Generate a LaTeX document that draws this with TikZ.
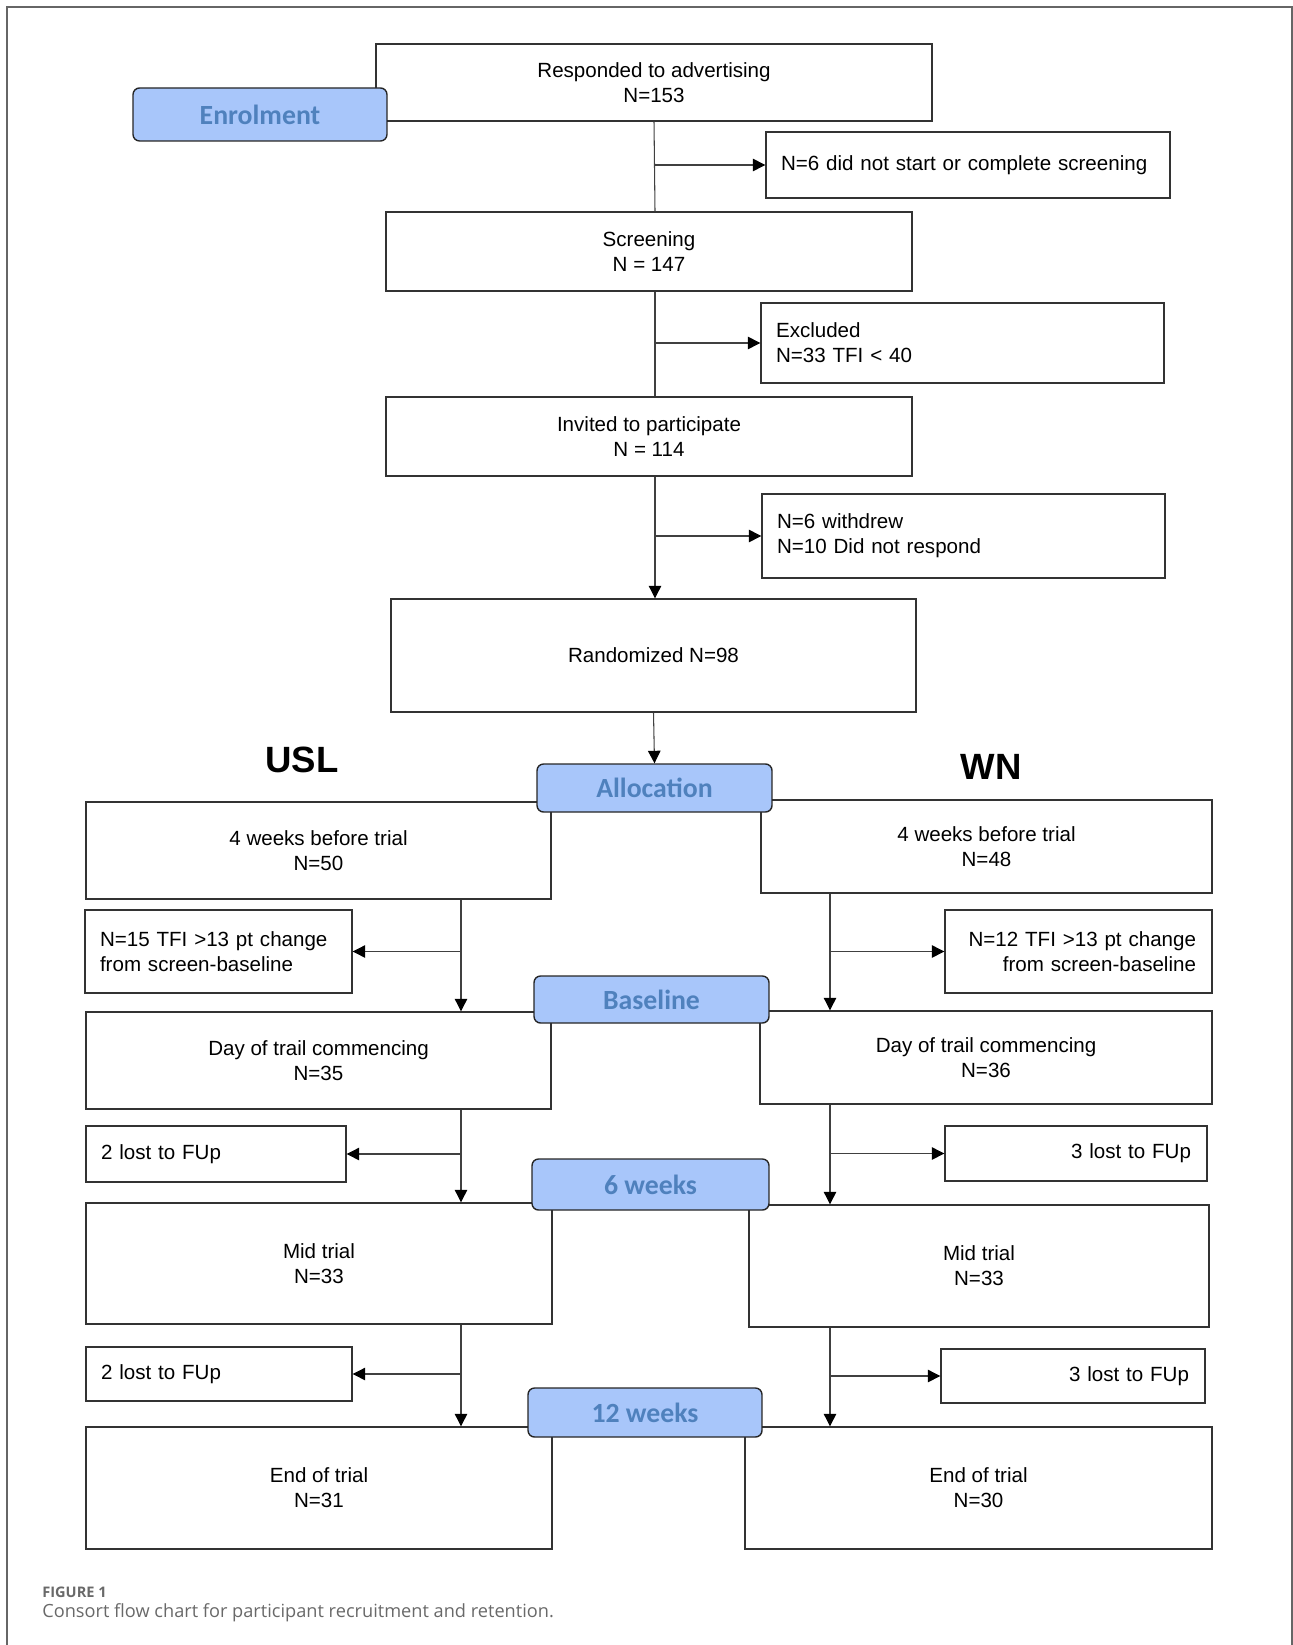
\documentclass[tikz,border=0pt]{standalone}
\usepackage{fontspec}
\setmainfont{Liberation Sans}
\newfontfamily\calibri{Carlito}
\newfontfamily\capfont{Open Sans}
\usetikzlibrary{arrows.meta}
\definecolor{phasefill}{RGB}{168,198,250}
\definecolor{phasetext}{RGB}{79,129,189}
\definecolor{capgray}{RGB}{105,105,105}
\newcommand{\boxfont}{\fontsize{11.7}{14.3}\selectfont}
\newcommand{\phasefont}{\calibri\bfseries\fontsize{15.8}{18}\selectfont}
\tikzset{
  box/.style={draw=black!80, line width=0.8pt, fill=white, align=center, font=\boxfont, inner sep=0pt},
  note/.style={box, align=left, inner xsep=0.3cm},
  noter/.style={box, align=right, inner xsep=0.32cm},
  phase/.style={draw=black!85, line width=0.8pt, fill=phasefill, rounded corners=0.13cm,
    text=phasetext, font=\phasefont, inner sep=0pt},
  line/.style={draw=black!75, line width=0.6pt},
  arr/.style={line, -{Triangle[length=0.25cm, width=0.25cm, color=black]}},
  arm/.style={font=\fontsize{20.8}{24}\selectfont\bfseries}
}
\begin{document}
\begin{tikzpicture}[x=0.02cm, y=-0.02cm]
  \useasboundingbox (0,0) rectangle (1293,1645);
  \draw[black!60, line width=0.03cm] (7,1645) -- (7,7) -- (1292,7) -- (1292,1645);

  \coordinate (trunk) at (655,0);
  \coordinate (trunkL) at (461,0);
  \coordinate (trunkR) at (830,0);

  \node[box, minimum width=11.12cm, minimum height=1.54cm] (resp) at (654,82.5)
    {Responded to advertising\\N=153};
  \node[phase, minimum width=5.08cm, minimum height=1.06cm] (enrol) at (260,114.5) {Enrolment};
  \node[note, text width=7.48cm, minimum height=1.32cm] (notstart) at (968,165)
    {N=6 did not start or complete screening};
  \node[box, minimum width=10.52cm, minimum height=1.58cm] (screen) at (649,251.5)
    {Screening\\N = 147};
  \node[note, text width=7.46cm, minimum height=1.6cm] (excl) at (962.5,343)
    {Excluded\\N=33 TFI < 40};
  \node[box, minimum width=10.52cm, minimum height=1.58cm] (invite) at (649,436.5)
    {Invited to participate\\N = 114};
  \node[note, text width=7.46cm, minimum height=1.68cm] (withdr) at (963.5,536)
    {N=6 withdrew\\N=10 Did not respond};
  \node[box, minimum width=10.5cm, minimum height=2.26cm] (random) at (653.5,655.5)
    {Randomized N=98};

  \node[arm] (usl) at (302,760) {USL};
  \node[arm] (wn) at (991,767) {WN};

  \node[box, minimum width=9.3cm, minimum height=1.94cm] (wkL) at (318.5,850.5)
    {4 weeks before trial\\N=50};
  \node[box, minimum width=9.02cm, minimum height=1.86cm] (wkR) at (986.5,846.5)
    {4 weeks before trial\\N=48};
  \node[phase, minimum width=4.7cm, minimum height=0.96cm] (alloc) at (654.5,788) {Allocation};

  \node[note, text width=4.74cm, minimum height=1.66cm] (chgL) at (218.5,951.5)
    {N=15 TFI >13 pt change\\from screen-baseline};
  \node[noter, text width=4.7cm, minimum height=1.66cm] (chgR) at (1078.5,951.5)
    {N=12 TFI >13 pt change\\from screen-baseline};

  \node[box, minimum width=9.3cm, minimum height=1.94cm] (dayL) at (318.5,1060.5)
    {Day of trail commencing\\N=35};
  \node[box, minimum width=9.04cm, minimum height=1.86cm] (dayR) at (986,1057.5)
    {Day of trail commencing\\N=36};
  \node[phase, minimum width=4.7cm, minimum height=0.94cm] (base) at (651.5,999.5) {Baseline};

  \node[note, text width=4.6cm, minimum height=1.12cm] (lostL1) at (216,1154) {2 lost to FUp};
  \node[noter, text width=4.6cm, minimum height=1.1cm] (lostR1) at (1076,1153.5) {3 lost to FUp};

  \node[box, minimum width=9.32cm, minimum height=2.42cm] (midL) at (319,1263.5)
    {Mid trial\\N=33};
  \node[box, minimum width=9.2cm, minimum height=2.44cm] (midR) at (979,1266)
    {Mid trial\\N=33};
  \node[phase, minimum width=4.74cm, minimum height=1.02cm] (six) at (650.5,1184.5) {6 weeks};

  \node[note, text width=4.72cm, minimum height=1.08cm] (lostL2) at (219,1374) {2 lost to FUp};
  \node[noter, text width=4.64cm, minimum height=1.08cm] (lostR2) at (1073,1376) {3 lost to FUp};

  \node[box, minimum width=9.32cm, minimum height=2.44cm] (endL) at (319,1488)
    {End of trial\\N=31};
  \node[box, minimum width=9.34cm, minimum height=2.44cm] (endR) at (978.5,1488)
    {End of trial\\N=30};
  \node[phase, minimum width=4.68cm, minimum height=0.98cm] (twelve) at (645,1412.5) {12 weeks};

  \node[anchor=west, inner sep=0pt, text=capgray, font=\capfont\bfseries\fontsize{8.3}{10}\selectfont]
    (figno) at (42,1592) {FIGURE 1};
  \node[anchor=west, inner sep=0pt, text=capgray, font=\capfont\fontsize{10.35}{12}\selectfont]
    (caption) at (42,1613) {Consort flow chart for participant recruitment and retention.};

  \begin{scope}
    \draw[line] (resp.south) -- (trunk |- screen.north);
    \draw[arr] (trunk |- notstart.west) -- (notstart.west);
    \draw[line] (trunk |- screen.south) -- (trunk |- invite.north);
    \draw[arr] (trunk |- excl.west) -- (excl.west);
    \draw[arr] (trunk |- invite.south) -- (trunk |- random.north);
    \draw[arr] (trunk |- withdr.west) -- (withdr.west);
    \draw[arr] (random.south) -- (alloc.north);

    \draw[arr] (trunkL |- wkL.south) -- (trunkL |- dayL.north);
    \draw[arr] (trunkL |- chgL.east) -- (chgL.east);
    \draw[arr] (trunkR |- wkR.south) -- (trunkR |- dayR.north);
    \draw[arr] (trunkR |- chgR.west) -- (chgR.west);

    \draw[arr] (trunkL |- dayL.south) -- (trunkL |- midL.north);
    \draw[arr] (trunkL |- lostL1.east) -- (lostL1.east);
    \draw[arr] (trunkR |- dayR.south) -- (trunkR |- midR.north);
    \draw[arr] (trunkR |- lostR1.west) -- (lostR1.west);

    \draw[arr] (trunkL |- midL.south) -- (trunkL |- endL.north);
    \draw[arr] (trunkL |- lostL2.east) -- (lostL2.east);
    \draw[arr] (trunkR |- midR.south) -- (trunkR |- endR.north);
    \draw[arr] (trunkR |- lostR2.west) -- (lostR2.west);
  \end{scope}
\end{tikzpicture}
\end{document}
